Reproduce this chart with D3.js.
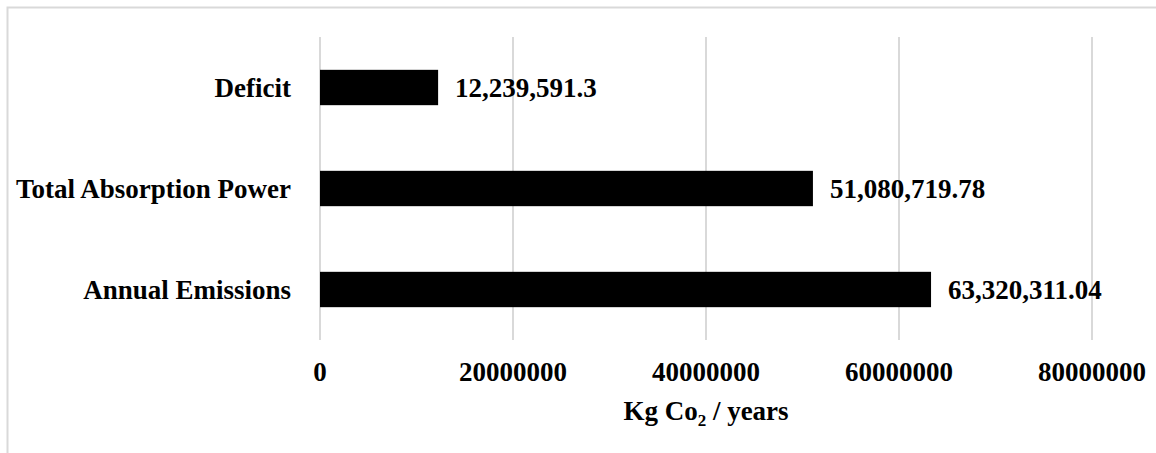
<!DOCTYPE html>
<html>
<head>
<meta charset="utf-8">
<script src="https://cdn.jsdelivr.net/npm/d3@7"></script>
<style>
  html, body { margin: 0; padding: 0; background: #fff; }
  svg { display: block; }
  text { font-family: "Liberation Serif", "Times New Roman", serif; font-weight: bold; fill: #000; }
</style>
</head>
<body>
<svg id="chart" width="1156" height="453"></svg>
<script>
const categories = ["Deficit", "Total Absorption Power", "Annual Emissions"];
const values = [12239591.3, 51080719.78, 63320311.04];
const valueLabels = ["12,239,591.3", "51,080,719.78", "63,320,311.04"];
const tickValues = [0, 20000000, 40000000, 60000000, 80000000];
const tickLabels = ["0", "20000000", "40000000", "60000000", "80000000"];

const svg = d3.select("#chart");
const W = 1156, H = 453;
const plotLeft = 320, plotRight = 1092, plotTop = 37, plotBottom = 340;
const fontSize = 27;

// outer border (extends past right and bottom edges)
svg.append("rect")
  .attr("x", 7.5).attr("y", 7.5)
  .attr("width", W + 20).attr("height", H + 20)
  .attr("fill", "none").attr("stroke", "#d9d9d9").attr("stroke-width", 2);

const x = d3.scaleLinear().domain([0, 80000000]).range([plotLeft, plotRight]);
const y = d3.scaleBand().domain(categories).range([plotTop, plotBottom]).paddingInner(0.65).paddingOuter(0.325);

// gridlines
svg.append("g").selectAll("line").data(tickValues).join("line")
  .attr("x1", d => x(d)).attr("x2", d => x(d))
  .attr("y1", plotTop).attr("y2", plotBottom)
  .attr("stroke", "#d9d9d9").attr("stroke-width", 2);

// bars
svg.append("g").selectAll("rect").data(categories).join("rect")
  .attr("x", x(0))
  .attr("y", (d) => y(d))
  .attr("width", (d, i) => x(values[i]) - x(0))
  .attr("height", y.bandwidth())
  .attr("fill", "#000");

// value labels
svg.append("g").selectAll("text").data(categories).join("text")
  .attr("x", (d, i) => x(values[i]) + 17)
  .attr("y", d => y(d) + y.bandwidth() / 2 + 9.5)
  .attr("font-size", fontSize)
  .text((d, i) => valueLabels[i]);

// category labels
svg.append("g").selectAll("text").data(categories).join("text")
  .attr("x", 291)
  .attr("y", d => y(d) + y.bandwidth() / 2 + 9.5)
  .attr("text-anchor", "end")
  .attr("font-size", fontSize)
  .text(d => d);

// x tick labels
svg.append("g").selectAll("text").data(tickValues).join("text")
  .attr("x", d => x(d))
  .attr("y", 381)
  .attr("text-anchor", "middle")
  .attr("font-size", fontSize)
  .text((d, i) => tickLabels[i]);

// axis title
const title = svg.append("text")
  .attr("x", x(40000000))
  .attr("y", 420)
  .attr("text-anchor", "middle")
  .attr("font-size", fontSize);
title.append("tspan").text("Kg Co");
title.append("tspan").attr("font-size", 17).attr("dy", 6).text("2");
title.append("tspan").attr("dy", -6).text(" / years");
</script>
</body>
</html>
